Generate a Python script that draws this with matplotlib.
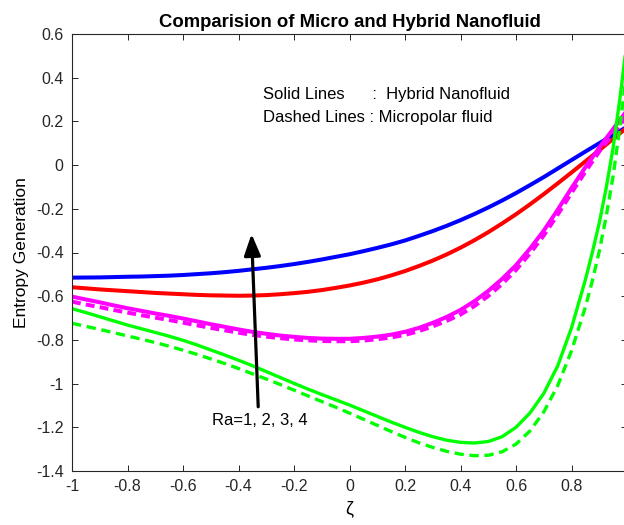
import matplotlib
matplotlib.use("Agg")
import matplotlib.pyplot as plt
from matplotlib.patches import ArrowStyle

plt.rcParams['font.family'] = ['Liberation Sans', 'DejaVu Sans']

# zeta positions (every 0.05)
zeta = [-1.0, -0.95, -0.9, -0.85, -0.8, -0.75, -0.7, -0.65, -0.6, -0.55,
        -0.5, -0.45, -0.4, -0.35, -0.3, -0.25, -0.2, -0.15, -0.1, -0.05,
        0.0, 0.05, 0.1, 0.15, 0.2, 0.25, 0.3, 0.35, 0.4, 0.45,
        0.5, 0.55, 0.6, 0.65, 0.7, 0.75, 0.8, 0.85, 0.9, 0.95, 1.0]

blue_hyb = [-0.515, -0.5145, -0.514, -0.5125, -0.511, -0.510, -0.508, -0.506, -0.503, -0.499,
            -0.495, -0.490, -0.484, -0.477, -0.470, -0.462, -0.453, -0.443, -0.432, -0.420,
            -0.408, -0.394, -0.379, -0.363, -0.345, -0.324, -0.302, -0.278, -0.252, -0.224,
            -0.194, -0.162, -0.128, -0.092, -0.055, -0.016, 0.023, 0.062, 0.100, 0.138, 0.175]
red_hyb = [-0.559, -0.564, -0.569, -0.573, -0.577, -0.581, -0.585, -0.588, -0.591, -0.594,
           -0.596, -0.597, -0.598, -0.597, -0.595, -0.591, -0.586, -0.580, -0.572, -0.562,
           -0.551, -0.538, -0.523, -0.505, -0.485, -0.462, -0.437, -0.409, -0.378, -0.344,
           -0.307, -0.267, -0.225, -0.180, -0.133, -0.084, -0.034, 0.017, 0.068, 0.120, 0.172]
mag_hyb = [-0.602, -0.615, -0.628, -0.642, -0.655, -0.667, -0.679, -0.690, -0.702, -0.715,
           -0.728, -0.740, -0.752, -0.763, -0.772, -0.780, -0.786, -0.791, -0.794, -0.795,
           -0.795, -0.791, -0.785, -0.776, -0.763, -0.745, -0.722, -0.695, -0.663, -0.623,
           -0.576, -0.521, -0.458, -0.383, -0.300, -0.205, -0.105, -0.010, 0.080, 0.165, 0.250]
mag_mic = [-0.625, -0.638, -0.650, -0.663, -0.675, -0.687, -0.698, -0.709, -0.721, -0.733,
           -0.745, -0.756, -0.767, -0.777, -0.785, -0.792, -0.798, -0.802, -0.805, -0.806,
           -0.806, -0.803, -0.797, -0.789, -0.777, -0.760, -0.738, -0.713, -0.684, -0.645,
           -0.599, -0.544, -0.480, -0.405, -0.322, -0.227, -0.127, -0.030, 0.062, 0.145, 0.225]

# green curves climb fast near the wall, so a few extra points there
zeta_g = [-1.0, -0.95, -0.9, -0.85, -0.8, -0.75, -0.7, -0.65, -0.6, -0.55,
          -0.5, -0.45, -0.4, -0.35, -0.3, -0.25, -0.2, -0.15, -0.1, -0.05,
          0.0, 0.05, 0.1, 0.15, 0.2, 0.25, 0.3, 0.35, 0.4, 0.45,
          0.5, 0.55, 0.6, 0.65, 0.7, 0.75, 0.8, 0.85, 0.875, 0.9, 0.925, 0.95, 0.975, 1.0]
green_hyb = [-0.657, -0.675, -0.694, -0.713, -0.732, -0.749, -0.766, -0.783, -0.802, -0.823,
             -0.846, -0.869, -0.893, -0.918, -0.945, -0.972, -0.999, -1.025, -1.050, -1.074,
             -1.098, -1.124, -1.150, -1.176, -1.200, -1.223, -1.243, -1.259, -1.269, -1.272,
             -1.265, -1.243, -1.200, -1.135, -1.045, -0.920, -0.745, -0.525, -0.400, -0.265,
             -0.105, 0.080, 0.310, 0.570]
green_mic = [-0.724, -0.738, -0.752, -0.767, -0.782, -0.797, -0.812, -0.829, -0.847, -0.866,
             -0.887, -0.908, -0.931, -0.955, -0.979, -1.004, -1.030, -1.056, -1.082, -1.108,
             -1.135, -1.163, -1.191, -1.219, -1.246, -1.271, -1.292, -1.310, -1.323, -1.330,
             -1.328, -1.312, -1.277, -1.217, -1.130, -1.010, -0.850, -0.650, -0.530, -0.395,
             -0.235, -0.050, 0.180, 0.440]

xticks = [-1, -0.8, -0.6, -0.4, -0.2, 0, 0.2, 0.4, 0.6, 0.8, 1]
xticklabels = ['-1', '-0.8', '-0.6', '-0.4', '-0.2', '0', '0.2', '0.4', '0.6', '0.8', '1']
yticks = [-1.4, -1.2, -1, -0.8, -0.6, -0.4, -0.2, 0, 0.2, 0.4, 0.6]
yticklabels = ['-1.4', '-1.2', '-1', '-0.8', '-0.6', '-0.4', '-0.2', '0', '0.2', '0.4', '0.6']

fig = plt.figure(figsize=(6.24, 5.25), dpi=100)
ax = fig.add_axes([72/624, 1 - 471/525, (627 - 72)/624, (471 - 34)/525])

ax.plot(zeta, blue_hyb, color='#0000ff', lw=2.9)
ax.plot(zeta, red_hyb, color='#ff0000', lw=2.9)
l, = ax.plot(zeta, mag_mic, color='#ff00ff', lw=2.9, ls='--')
l.set_dashes([2.2, 1.3])
ax.plot(zeta, mag_hyb, color='#ff00ff', lw=2.9)
ax.plot(zeta_g, green_hyb, color='#00ff00', lw=2.4)
l, = ax.plot(zeta_g, green_mic, color='#00ff00', lw=2.4, ls='--')
l.set_dashes([2.8, 1.7])

ax.set_xlim(-1, 1)
ax.set_ylim(-1.4, 0.6)
ax.set_xticks(xticks)
ax.set_xticklabels(xticklabels)
ax.set_yticks(yticks)
ax.set_yticklabels(yticklabels)
ax.tick_params(direction='in', length=4, width=0.7, top=True, right=True,
               labelsize=11.5, colors='#262626', pad=6)
for s in ax.spines.values():
    s.set_color('#262626')
    s.set_linewidth(0.8)

ax.set_title('Comparision of Micro and Hybrid Nanofluid', fontsize=13.3,
             fontweight='bold', pad=5)
ax.set_xlabel('\u03b6', fontsize=13, labelpad=4)
ax.set_ylabel('Entropy Generation', fontsize=12.5, labelpad=5)

ax.text(-0.312, 0.321, 'Solid Lines      :  Hybrid Nanofluid', fontsize=12, va='center')
ax.text(-0.312, 0.220, 'Dashed Lines : Micropolar fluid', fontsize=12, va='center')

ax.annotate('', xy=(-0.353, -0.315), xytext=(-0.329, -1.106),
            arrowprops=dict(arrowstyle=ArrowStyle('-|>', head_length=0.65, head_width=0.25),
                            mutation_scale=20, lw=2.3, color='k', shrinkA=0, shrinkB=0))
ax.text(-0.495, -1.171, 'Ra=1, 2, 3, 4', fontsize=12, va='center')

fig.savefig('out.png', dpi=100)
